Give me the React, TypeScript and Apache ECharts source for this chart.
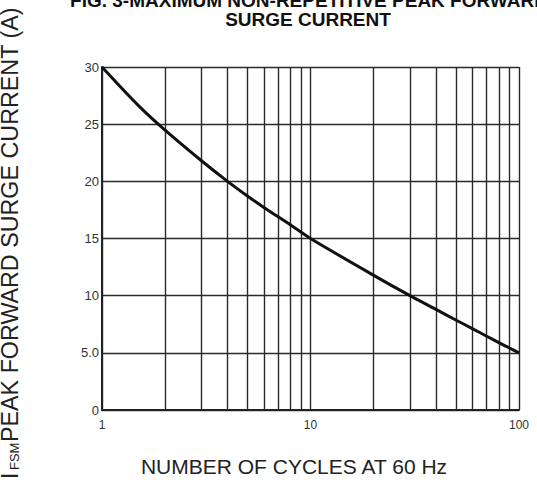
import { useEffect, useRef } from "react";
import * as echarts from "echarts";

const cycles = [1, 1.5, 2, 3, 4, 5, 6, 8, 10, 20, 30, 40, 50, 60, 70, 80, 90, 100];
const current = [30, 26.6, 24.5, 21.8, 20, 18.7, 17.7, 16.2, 15, 11.8, 10, 8.8, 7.85, 7.1, 6.45, 5.9, 5.42, 5.0];
const minorCycles = [2, 3, 4, 5, 6, 7, 8, 9, 20, 30, 40, 50, 60, 70, 80, 90];
const titleLines = ["FIG. 3-MAXIMUM NON-REPETITIVE PEAK FORWARD", "SURGE CURRENT"];
const xAxisTitle = "NUMBER OF CYCLES AT 60 Hz";
const yAxisMain = "I";
const yAxisSub = "FSM";
const yAxisRest = "PEAK FORWARD SURGE CURRENT (A)";

const FONT = "'Liberation Sans', Arial, Helvetica, sans-serif";

export default function App() {
  const ref = useRef<HTMLDivElement>(null);
  useEffect(() => {
    const chart = echarts.init(ref.current!, null, { renderer: "svg" });
    const gridLine = { color: "#2a2a2a", width: 1.4, type: "solid" as const };
    chart.setOption({
      animation: false,
      backgroundColor: "#ffffff",
      grid: { left: 102, top: 67, width: 417, height: 343, containLabel: false },
      xAxis: {
        type: "log",
        logBase: 10,
        min: 1,
        max: 100,
        axisLine: { show: true, onZero: false, lineStyle: { color: "#222", width: 2 } },
        axisTick: { show: false },
        splitLine: { show: true, lineStyle: gridLine },
        axisLabel: { color: "#333", fontSize: 12, fontFamily: FONT, margin: 9 },
      },
      yAxis: {
        type: "value",
        min: 0,
        max: 30,
        interval: 5,
        axisLine: { show: true, lineStyle: { color: "#222", width: 2 } },
        axisTick: { show: false },
        splitLine: { show: true, lineStyle: gridLine },
        axisLabel: {
          color: "#333",
          fontSize: 13,
          fontFamily: FONT,
          margin: 3,
          formatter: (v: number) => (v === 5 ? "5.0" : String(v)),
        },
      },
      series: [
        {
          type: "line",
          data: [],
          z: 1,
          markLine: {
            silent: true,
            symbol: "none",
            label: { show: false },
            lineStyle: gridLine,
            data: minorCycles.map((c) => ({ xAxis: c })),
          },
        },
        {
          type: "line",
          data: cycles.map((c, i) => [c, current[i]]),
          symbol: "none",
          showSymbol: false,
          smooth: 0.3,
          z: 5,
          lineStyle: { color: "#111", width: 3 },
        },
      ],
      graphic: [
        {
          type: "text",
          x: 309,
          y: 0.5,
          style: {
            text: titleLines[0],
            fontSize: 19,
            fontWeight: "bold",
            fontFamily: FONT,
            fill: "#111",
            align: "center",
            verticalAlign: "middle",
          },
        },
        {
          type: "text",
          x: 308,
          y: 19.5,
          style: {
            text: titleLines[1],
            fontSize: 19,
            fontWeight: "bold",
            fontFamily: FONT,
            fill: "#111",
            align: "center",
            verticalAlign: "middle",
          },
        },
        {
          type: "text",
          x: 294,
          y: 466,
          style: {
            text: xAxisTitle,
            fontSize: 21,
            fontFamily: FONT,
            fill: "#222",
            align: "center",
            verticalAlign: "middle",
          },
        },
        {
          type: "group",
          x: 10,
          y: 488,
          rotation: Math.PI / 2,
          children: [
            {
              type: "text",
              x: 9,
              y: 0,
              style: { text: yAxisMain, fontSize: 23, fontFamily: FONT, fill: "#222", align: "left", verticalAlign: "middle" },
            },
            {
              type: "text",
              x: 18,
              y: 4,
              style: { text: yAxisSub, fontSize: 13, fontFamily: FONT, fill: "#222", align: "left", verticalAlign: "middle" },
            },
            {
              type: "text",
              x: 46,
              y: 0,
              style: { text: yAxisRest, fontSize: 23.3, fontFamily: FONT, fill: "#222", align: "left", verticalAlign: "middle" },
            },
          ],
        },
      ],
    });
    return () => chart.dispose();
  }, []);
  return <div ref={ref} style={{ position: "absolute", left: 0, top: 0, width: 537, height: 488 }} />;
}
